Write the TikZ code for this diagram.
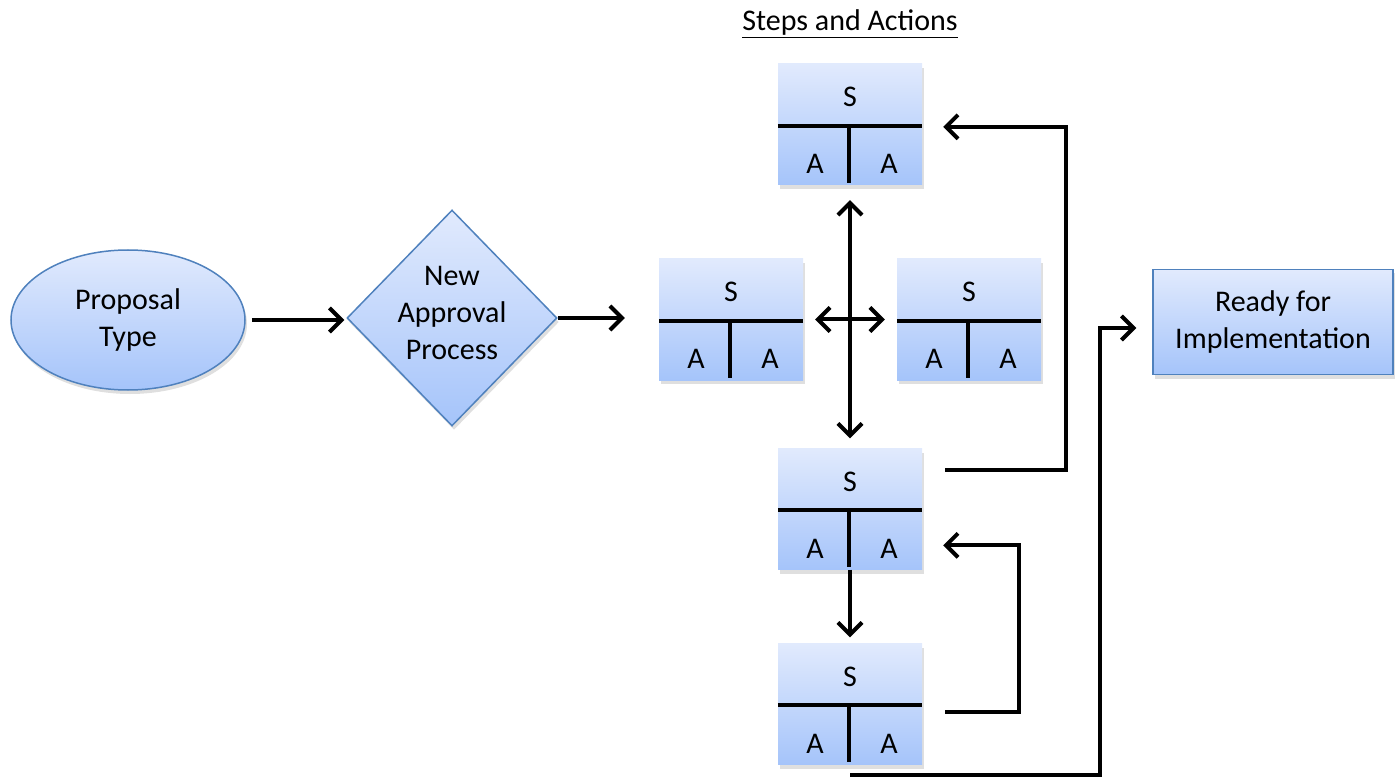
\documentclass[tikz,border=0pt]{standalone}
\usepackage{fontspec}
\setmainfont{Carlito}
\usetikzlibrary{arrows.meta,shapes.geometric,shadows,calc}
\definecolor{boxtop}{RGB}{225,234,253}
\definecolor{boxbot}{RGB}{165,196,250}
\definecolor{boxline}{RGB}{79,129,189}

\begin{document}
\begin{tikzpicture}[x=1pt,y=-1pt,>={Straight Barb[length=12pt,width=24pt]}]
	\tikzstyle{every node}+=[inner sep=0pt,font=\fontsize{30}{37}\selectfont]
	\tikzstyle{filled}=[top color=boxtop,bottom color=boxbot,drop shadow={opacity=0.25,shadow xshift=2pt,shadow yshift=-4pt}]
	\tikzstyle{stepbox}=[filled,rectangle,minimum width=144pt,minimum height=121pt]
	\tikzstyle{divider}=[line width=4pt]
	\tikzstyle{arr}=[line width=4pt,->]
	\useasboundingbox (0,0) rectangle (1399,783);
	\node (title) at (850,24) {\underline{Steps and Actions}};
	\node [ellipse,draw=boxline,line width=1.5pt,filled,minimum width=234pt,minimum height=140pt,align=center] (prop) at (128,320) {Proposal\\Type};
	\node [diamond,draw=boxline,line width=1.5pt,filled,minimum width=210pt,minimum height=216pt] (dia) at (452,318) {};
	\node [align=center] (diatext) at (452,313) {New\\Approval\\Process};
	\node [stepbox] (s1) at (850,124.5) {};
	\node [stepbox] (s2) at (731,319.5) {};
	\node [stepbox] (s3) at (969,319.5) {};
	\node [stepbox] (s4) at (850,509) {};
	\node [stepbox] (s5) at (850,704) {};
	\node [rectangle,draw=boxline,line width=1.5pt,filled,minimum width=240pt,minimum height=105pt,align=center] (rdy) at (1273,322) {Ready for\\Implementation};
	\foreach \n in {s1,s2,s3,s4,s5}{
		\draw [divider] ($(\n.north west)+(0,62)$) -- ($(\n.north east)+(0,62)$);
		\draw [divider] ($(\n.north)+(-1,62)$) -- ($(\n.north)+(-1,119)$);
		\node [anchor=base] (\n-s) at ($(\n.north)+(0,43)$) {S};
		\node [anchor=base] (\n-a1) at ($(\n.north)+(-35,110)$) {A};
		\node [anchor=base] (\n-a2) at ($(\n.north)+(39,110)$) {A};
	}
	\draw [arr,shorten <=6pt,shorten >=2pt] (prop.east) -- (prop.east -| dia.west);
	\draw [arr,shorten >=34pt] (dia.east) -- (dia.east -| s2.west);
	\draw [arr,<->,shorten <=12pt,shorten >=12pt] (s2.east) -- (s3.west);
	\draw [arr,<->,shorten <=15pt,shorten >=10pt] (s1.south) -- (s4.north);
	\draw [arr,shorten >=6pt] (s4.south) -- (s5.north);
	\draw [arr] ($(s4.north east)+(23,22)$) -| ($(s1.north east)+(144,63)$) -- ($(s1.north east)+(21,63)$);
	\draw [arr] ($(s5.north east)+(23,69)$) -| ($(s4.north east)+(97,97)$) -- ($(s4.north east)+(21,97)$);
	\draw [arr] ($(s5.south)+(0,10)$) -| ($(rdy.west)+(-52,6)$) -- ($(rdy.west)+(-16,6)$);
\end{tikzpicture}
\end{document}
